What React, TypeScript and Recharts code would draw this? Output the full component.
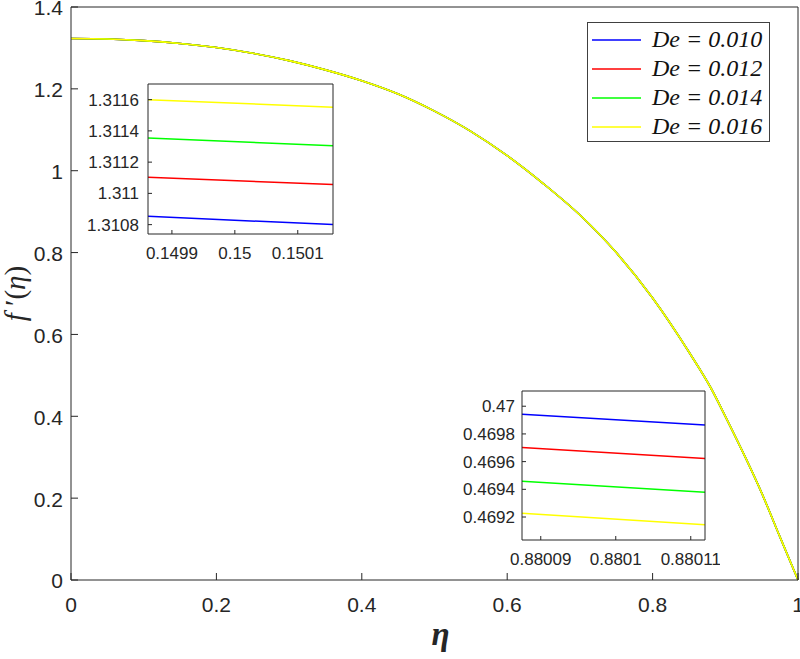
import React from 'react';
import { LineChart, Line, XAxis, YAxis, Legend } from 'recharts';

// ---------- main chart data (the four curves coincide at this scale) ----------
const etaMain = [0, 0.05, 0.1, 0.15, 0.2, 0.25, 0.3, 0.35, 0.4, 0.45, 0.5, 0.55, 0.6, 0.65, 0.7, 0.75, 0.8, 0.85, 0.88, 0.9, 0.95, 0.975, 1];
const fpMain = [1.323, 1.3217, 1.3178, 1.311, 1.301, 1.287, 1.269, 1.2464, 1.2198, 1.1873, 1.1455, 1.0961, 1.0368, 0.968, 0.8918, 0.8, 0.689, 0.557, 0.4697, 0.4, 0.213, 0.106, 0];
const xTicksMain = [0, 0.2, 0.4, 0.6, 0.8, 1];
const yTicksMain = [0, 0.2, 0.4, 0.6, 0.8, 1, 1.2, 1.4];

const seriesNames = ['De = 0.010', 'De = 0.012', 'De = 0.014', 'De = 0.016'];
const seriesKeys = ['d010', 'd012', 'd014', 'd016'];
const seriesColors = ['#0000ff', '#ff0000', '#00ff00', '#ffff00'];

// ---------- inset 1 (around eta = 0.15) ----------
const inset1Eta = [0.149862, 0.150156];
const inset1De010 = [1.310853, 1.3108];
const inset1De012 = [1.311104, 1.311056];
const inset1De014 = [1.311355, 1.311304];
const inset1De016 = [1.3116, 1.311551];
const inset1XDomain = [0.149862, 0.150156];
const inset1YDomain = [1.31074, 1.3117];
const inset1XTicks = [0.1499, 0.15, 0.1501];
const inset1YTicks = [1.3108, 1.311, 1.3112, 1.3114, 1.3116];

// ---------- inset 2 (around eta = 0.8801) ----------
const inset2Eta = [0.8800875, 0.8801119];
const inset2De010 = [0.469942, 0.469865];
const inset2De012 = [0.469702, 0.469622];
const inset2De014 = [0.469458, 0.469378];
const inset2De016 = [0.469227, 0.469144];
const inset2XDomain = [0.8800875, 0.8801119];
const inset2YDomain = [0.469034, 0.47011];
const inset2XTicks = [0.88009, 0.8801, 0.88011];
const inset2YTicks = [0.4692, 0.4694, 0.4696, 0.4698, 0.47];

const mainRows = etaMain.map((e, i) => ({ eta: e, fp: fpMain[i] }));
const buildRows = (eta: number[], a: number[], b: number[], c: number[], d: number[]) =>
  eta.map((e, i) => ({ eta: e, d010: a[i], d012: b[i], d014: c[i], d016: d[i] }));
const inset1Rows = buildRows(inset1Eta, inset1De010, inset1De012, inset1De014, inset1De016);
const inset2Rows = buildRows(inset2Eta, inset2De010, inset2De012, inset2De014, inset2De016);

const SANS = '"Liberation Sans", Arial, Helvetica, sans-serif';
const SERIF = '"Liberation Serif", "Times New Roman", Times, serif';
const AXIS = '#262626';

const XLabel = (props: any) => {
  const vb = props.viewBox || {};
  const cx = vb.x + vb.width / 2;
  const y = vb.y + vb.height - 14;
  return (
    <text x={cx + 6} y={y} textAnchor="middle" fontFamily={SERIF} fontStyle="italic" fontWeight="bold" fontSize={33} fill={AXIS}>
      η
    </text>
  );
};

const YLabel = (props: any) => {
  const vb = props.viewBox || {};
  const cx = 15;
  const cy = vb.y + vb.height / 2;
  return (
    <text
      x={cx}
      y={cy}
      transform={`rotate(-90, ${cx}, ${cy})`}
      textAnchor="middle"
      dominantBaseline="central"
      fontFamily={SERIF}
      fontSize={29}
      fill={AXIS}
    >
      <tspan fontStyle="italic">f</tspan>
      <tspan> ′(</tspan>
      <tspan fontStyle="italic">η</tspan>
      <tspan>)</tspan>
    </text>
  );
};

const renderLegend = (props: any) => {
  const payload = props.payload || [];
  return (
    <div
      style={{
        border: '1px solid #404040',
        background: '#fff',
        width: 181,
        height: 116,
        paddingTop: 2,
        boxSizing: 'content-box',
      }}
    >
      {payload.map((p: any, i: number) => (
        <div key={i} style={{ display: 'flex', alignItems: 'center', height: 29 }}>
          <svg width={60} height={6} style={{ marginLeft: 4, flex: 'none' }}>
            <line x1={0} y1={3} x2={49} y2={3} stroke={p.color} strokeWidth={1.5} />
          </svg>
          <span style={{ fontFamily: SERIF, fontStyle: 'italic', fontSize: 24, color: '#111', whiteSpace: 'pre', lineHeight: '29px' }}>
            {p.value}
          </span>
        </div>
      ))}
    </div>
  );
};

type InsetProps = {
  rows: any[];
  left: number;
  top: number;
  width: number;
  height: number;
  margin: { top: number; right: number; bottom: number; left: number };
  yAxisWidth: number;
  xAxisHeight: number;
  xDomain: number[];
  yDomain: number[];
  xTicks: number[];
  yTicks: number[];
  yTickMargin: number;
  xTickMargin: number;
};

const Inset = (p: InsetProps) => {
  const tickStyle = { fontSize: 17, fill: AXIS, fontFamily: SANS };
  return (
    <div style={{ position: 'absolute', left: p.left, top: p.top, width: p.width, height: p.height }}>
      <LineChart width={p.width} height={p.height} data={p.rows} margin={p.margin}>
        <XAxis
          xAxisId="b"
          dataKey="eta"
          type="number"
          domain={p.xDomain}
          allowDataOverflow
          ticks={p.xTicks}
          interval={0}
          tickSize={-4}
          tickMargin={p.xTickMargin}
          height={p.xAxisHeight}
          stroke={AXIS}
          tick={tickStyle}
        />
        <XAxis xAxisId="t" orientation="top" dataKey="eta" type="number" domain={p.xDomain} allowDataOverflow ticks={p.xTicks} interval={0} tickSize={-4} tick={false} height={1} stroke={AXIS} />
        <YAxis
          yAxisId="l"
          type="number"
          domain={p.yDomain}
          allowDataOverflow
          ticks={p.yTicks}
          interval={0}
          tickSize={-4}
          tickMargin={p.yTickMargin}
          width={p.yAxisWidth}
          stroke={AXIS}
          tick={tickStyle}
        />
        <YAxis yAxisId="r" orientation="right" type="number" domain={p.yDomain} allowDataOverflow ticks={p.yTicks} interval={0} tickSize={-4} tick={false} width={1} stroke={AXIS} />
        {seriesKeys.map((k, i) => (
          <Line
            key={k}
            xAxisId="b"
            yAxisId="l"
            dataKey={k}
            stroke={seriesColors[i]}
            strokeWidth={1.5}
            dot={false}
            isAnimationActive={false}
          />
        ))}
      </LineChart>
    </div>
  );
};

export default function App() {
  const xTickStyle = { fontSize: 21, fill: AXIS, fontFamily: SANS };
  const yTickStyle = { fontSize: 21, fill: AXIS, fontFamily: SANS, dy: 1 };
  return (
    <div style={{ position: 'absolute', left: 0, top: 0, width: 800, height: 659, background: '#fff', overflow: 'hidden' }}>
      <LineChart width={800} height={659} data={mainRows} margin={{ top: 6, right: 1, bottom: 0, left: 0 }}>
        <XAxis
          xAxisId="b"
          dataKey="eta"
          type="number"
          domain={[0, 1]}
          ticks={xTicksMain}
          interval={0}
          tickSize={-7}
          tickMargin={24}
          height={79}
          stroke={AXIS}
          tick={xTickStyle}
          label={<XLabel />}
        />
        <XAxis xAxisId="t" orientation="top" dataKey="eta" type="number" domain={[0, 1]} ticks={xTicksMain} interval={0} tickSize={-7} tick={false} height={1} stroke={AXIS} />
        <YAxis
          yAxisId="l"
          type="number"
          domain={[0, 1.4]}
          ticks={yTicksMain}
          interval={0}
          tickSize={-7}
          tickMargin={15}
          width={71}
          stroke={AXIS}
          tick={yTickStyle}
          label={<YLabel />}
        />
        <YAxis yAxisId="r" orientation="right" type="number" domain={[0, 1.4]} ticks={yTicksMain} interval={0} tickSize={-7} tick={false} width={1} stroke={AXIS} />
        <Legend
          layout="horizontal"
          verticalAlign="middle"
          align="center"
          content={renderLegend}
          wrapperStyle={{ position: 'absolute', top: 22, left: 587, width: 183, height: 120 }}
        />
        {seriesNames.map((n, i) => (
          <Line
            key={n}
            name={n}
            xAxisId="b"
            yAxisId="l"
            dataKey="fp"
            type="monotone"
            stroke={seriesColors[i]}
            strokeWidth={1.6}
            dot={false}
            isAnimationActive={false}
          />
        ))}
      </LineChart>
      <Inset
        rows={inset1Rows}
        left={70}
        top={80}
        width={270}
        height={185}
        margin={{ top: 3, right: 6, bottom: 0, left: 0 }}
        yAxisWidth={78}
        xAxisHeight={31}
        xDomain={inset1XDomain}
        yDomain={inset1YDomain}
        xTicks={inset1XTicks}
        yTicks={inset1YTicks}
        yTickMargin={13}
        xTickMargin={17}
      />
      <Inset
        rows={inset2Rows}
        left={440}
        top={385}
        width={280}
        height={190}
        margin={{ top: 5, right: 14, bottom: 0, left: 0 }}
        yAxisWidth={82}
        xAxisHeight={35}
        xDomain={inset2XDomain}
        yDomain={inset2YDomain}
        xTicks={inset2XTicks}
        yTicks={inset2YTicks}
        yTickMargin={11}
        xTickMargin={17}
      />
    </div>
  );
}
